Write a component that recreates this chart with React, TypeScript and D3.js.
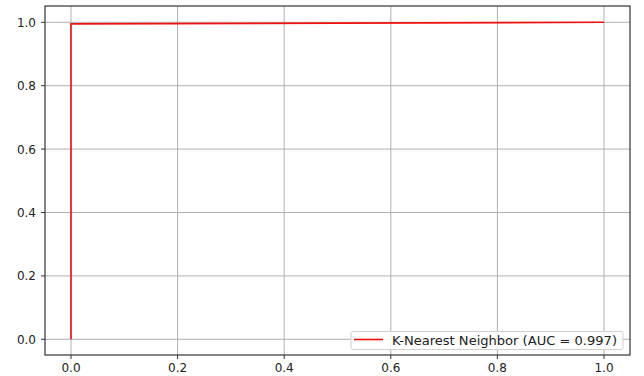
import React, { useEffect, useRef } from 'react';
import * as d3 from 'd3';

// ROC curve points (false positive rate / true positive rate)
const fpr = [0.0, 0.0, 1.0];
const tpr = [0.0, 0.995, 1.0];
const xTicks = [0.0, 0.2, 0.4, 0.6, 0.8, 1.0];
const yTicks = [0.0, 0.2, 0.4, 0.6, 0.8, 1.0];
const seriesLabel = 'K-Nearest Neighbor (AUC = 0.997)';

const W = 644;
const H = 376;

export default function App() {
  const svgRef = useRef<SVGSVGElement | null>(null);

  useEffect(() => {
    const svg = d3.select(svgRef.current);
    svg.selectAll('*').remove();

    const box = { left: 45, top: 6, right: 630, bottom: 355 };

    const x = d3.scaleLinear().domain([0, 1]).range([71, 604]);
    const y = d3.scaleLinear().domain([0, 1]).range([339.3, 22.3]);

    const font = 'DejaVu Sans, sans-serif';

    // grid
    const grid = svg.append('g');
    xTicks.forEach(t => {
      grid.append('line')
        .attr('x1', x(t)).attr('x2', x(t))
        .attr('y1', box.top).attr('y2', box.bottom)
        .attr('stroke', '#b0b0b0').attr('stroke-width', 1);
    });
    yTicks.forEach(t => {
      grid.append('line')
        .attr('x1', box.left).attr('x2', box.right)
        .attr('y1', y(t)).attr('y2', y(t))
        .attr('stroke', '#b0b0b0').attr('stroke-width', 1);
    });

    // curve
    const pts = fpr.map((f, i) => [f, tpr[i]] as [number, number]);
    const line = d3.line<[number, number]>()
      .x(d => x(d[0]))
      .y(d => y(d[1]));
    svg.append('path')
      .datum(pts)
      .attr('fill', 'none')
      .attr('stroke', '#f01010')
      .attr('stroke-width', 1.6)
      .attr('d', line);

    // frame
    svg.append('rect')
      .attr('x', box.left).attr('y', box.top)
      .attr('width', box.right - box.left).attr('height', box.bottom - box.top)
      .attr('fill', 'none')
      .attr('stroke', '#333')
      .attr('stroke-width', 1.2);

    // ticks
    const ticks = svg.append('g');
    xTicks.forEach(t => {
      ticks.append('line')
        .attr('x1', x(t)).attr('x2', x(t))
        .attr('y1', box.bottom).attr('y2', box.bottom + 4)
        .attr('stroke', '#333');
      ticks.append('text')
        .attr('x', x(t)).attr('y', 372)
        .attr('text-anchor', 'middle')
        .attr('font-family', font).attr('font-size', 12)
        .attr('fill', '#222')
        .text(t.toFixed(1));
    });
    yTicks.forEach(t => {
      ticks.append('line')
        .attr('x1', box.left - 4).attr('x2', box.left)
        .attr('y1', y(t)).attr('y2', y(t))
        .attr('stroke', '#333');
      ticks.append('text')
        .attr('x', 36).attr('y', y(t) + 4.5)
        .attr('text-anchor', 'end')
        .attr('font-family', font).attr('font-size', 12)
        .attr('fill', '#222')
        .text(t.toFixed(1));
    });

    // legend
    const lg = svg.append('g');
    lg.append('rect')
      .attr('x', 351).attr('y', 331.5)
      .attr('width', 272).attr('height', 18)
      .attr('rx', 2)
      .attr('fill', 'white').attr('fill-opacity', 0.85)
      .attr('stroke', '#d0d0d0');
    lg.append('line')
      .attr('x1', 354).attr('x2', 383)
      .attr('y1', 339.5).attr('y2', 339.5)
      .attr('stroke', '#f01010').attr('stroke-width', 1.6);
    lg.append('text')
      .attr('x', 392).attr('y', 344.5)
      .attr('font-family', font).attr('font-size', 12)
      .attr('fill', '#222')
      .attr('textLength', 225)
      .attr('lengthAdjust', 'spacingAndGlyphs')
      .text(seriesLabel);
  }, []);

  return (
    <svg
      ref={svgRef}
      width={W}
      height={H}
      style={{ position: 'absolute', left: 0, top: 0, background: 'white' }}
    />
  );
}
